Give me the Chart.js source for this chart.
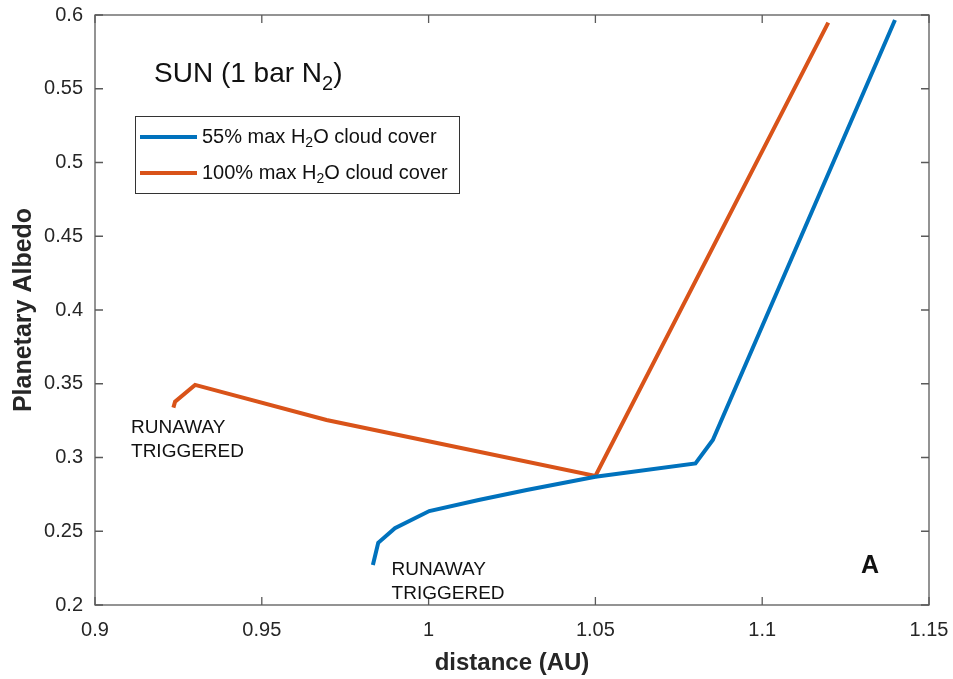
<!DOCTYPE html>
<html>
<head>
<meta charset="utf-8">
<script src="https://cdn.jsdelivr.net/npm/chart.js@4.4.1/dist/chart.umd.min.js"></script>
<style>
  html, body { margin: 0; padding: 0; background: #fff; }
  #wrap { width: 953px; height: 679px; position: relative; }
</style>
</head>
<body>
<div id="wrap"><canvas id="albedo"></canvas></div>
<script>
// 55% max H2O cloud cover
const blueX = [0.9833, 0.9849, 0.9899, 1.0002, 1.015, 1.0294, 1.05, 1.08, 1.0852, 1.1398];
const blueY = [0.2271, 0.2422, 0.2520, 0.2637, 0.2712, 0.2780, 0.2870, 0.2960, 0.3119, 0.5966];
// 100% max H2O cloud cover
const orangeX = [0.9235, 0.9240, 0.9300, 0.9694, 1.0500, 1.1198];
const orangeY = [0.3338, 0.3378, 0.3492, 0.3254, 0.2875, 0.5948];

const xTicks = [0.9, 0.95, 1, 1.05, 1.1, 1.15];
const yTicks = [0.2, 0.25, 0.3, 0.35, 0.4, 0.45, 0.5, 0.55, 0.6];

const BLUE = '#0072BD';
const ORANGE = '#D95319';
const AXIS = '#5a5a5a';
const TXT = '#262626';
const FONT = "'Liberation Sans', Arial, sans-serif";

const toPoints = (xs, ys) => xs.map((x, i) => ({ x: x, y: ys[i] }));

// draw text with a subscript part: parts = [[text, isSub], ...]
function subText(ctx, x, y, parts, size) {
  let cx = x;
  parts.forEach(([t, sub]) => {
    const s = sub ? Math.round(size * 0.72) : size;
    ctx.font = s + 'px ' + FONT;
    ctx.fillText(t, cx, sub ? y + size * 0.3 : y);
    cx += ctx.measureText(t).width;
  });
}

const framePlugin = {
  id: 'frame',
  afterDraw(chart) {
    const { ctx, chartArea: a, scales } = chart;
    const xs = scales.x, ys = scales.y;
    ctx.save();
    ctx.strokeStyle = AXIS;
    ctx.lineWidth = 1.3;
    ctx.strokeRect(a.left, a.top, a.right - a.left, a.bottom - a.top);
    const tl = 8;
    ctx.beginPath();
    xTicks.forEach(v => {
      const px = xs.getPixelForValue(v);
      ctx.moveTo(px, a.bottom); ctx.lineTo(px, a.bottom - tl);
      ctx.moveTo(px, a.top); ctx.lineTo(px, a.top + tl);
    });
    yTicks.forEach(v => {
      const py = ys.getPixelForValue(v);
      ctx.moveTo(a.left, py); ctx.lineTo(a.left + tl, py);
      ctx.moveTo(a.right, py); ctx.lineTo(a.right - tl, py);
    });
    ctx.stroke();

    // title inside the axes
    ctx.fillStyle = '#111';
    ctx.textBaseline = 'alphabetic';
    ctx.textAlign = 'left';
    subText(ctx, xs.getPixelForValue(0.9177), ys.getPixelForValue(0.5546),
      [['SUN (1 bar N', false], ['2', true], [')', false]], 28);

    // legend box
    const lx = a.left + 40, ly = a.top + 101, lw = 324, lh = 77;
    ctx.fillStyle = '#fff';
    ctx.fillRect(lx, ly, lw, lh);
    ctx.strokeStyle = '#333';
    ctx.lineWidth = 1;
    ctx.strokeRect(lx + 0.5, ly + 0.5, lw, lh);
    const rows = [
      { color: BLUE, parts: [['55% max H', false], ['2', true], ['O cloud cover', false]] },
      { color: ORANGE, parts: [['100% max H', false], ['2', true], ['O cloud cover', false]] }
    ];
    rows.forEach((r, i) => {
      const ry = ly + 21 + i * 36;
      ctx.strokeStyle = r.color;
      ctx.lineWidth = 4;
      ctx.beginPath();
      ctx.moveTo(lx + 5, ry); ctx.lineTo(lx + 62, ry);
      ctx.stroke();
      ctx.fillStyle = '#111';
      ctx.textBaseline = 'middle';
      subText(ctx, lx + 67, ry, r.parts, 20);
    });

    // annotations
    ctx.fillStyle = '#111';
    ctx.textBaseline = 'alphabetic';
    ctx.font = '19px ' + FONT;
    let px = xs.getPixelForValue(0.9108), py = ys.getPixelForValue(0.3166);
    ctx.fillText('RUNAWAY', px, py);
    ctx.fillText('TRIGGERED', px, py + 24);
    px = xs.getPixelForValue(0.9889); py = ys.getPixelForValue(0.2203);
    ctx.fillText('RUNAWAY', px, py);
    ctx.fillText('TRIGGERED', px, py + 24);

    ctx.font = 'bold 25px ' + FONT;
    ctx.textAlign = 'center';
    ctx.fillText('A', xs.getPixelForValue(1.1323), ys.getPixelForValue(0.2217));
    ctx.restore();
  }
};

const noPad = s => { s.paddingLeft = 0; s.paddingRight = 0; s.paddingTop = 0; s.paddingBottom = 0; };

new Chart(document.getElementById('albedo'), {
  type: 'scatter',
  data: {
    datasets: [
      {
        label: '55% max H2O cloud cover',
        data: toPoints(blueX, blueY),
        showLine: true,
        borderColor: BLUE,
        backgroundColor: BLUE,
        borderWidth: 4,
        pointRadius: 0,
        tension: 0
      },
      {
        label: '100% max H2O cloud cover',
        data: toPoints(orangeX, orangeY),
        showLine: true,
        borderColor: ORANGE,
        backgroundColor: ORANGE,
        borderWidth: 4,
        pointRadius: 0,
        tension: 0
      }
    ]
  },
  options: {
    responsive: true,
    maintainAspectRatio: false,
    animation: false,
    layout: { padding: { top: 15, right: 24, left: 0, bottom: 0 } },
    plugins: {
      legend: { display: false },
      tooltip: { enabled: false }
    },
    scales: {
      x: {
        type: 'linear',
        min: 0.9,
        max: 1.15,
        afterBuildTicks: s => { s.ticks = xTicks.map(v => ({ value: v })); },
        afterFit: s => { s.height = 74; noPad(s); },
        grid: { display: false, drawTicks: false },
        border: { display: false },
        ticks: {
          padding: 13,
          color: TXT,
          font: { family: FONT, size: 20 },
          maxRotation: 0,
          callback: v => String(+v.toFixed(2))
        },
        title: {
          display: true,
          text: 'distance (AU)',
          color: TXT,
          font: { family: FONT, size: 24, weight: 'bold' },
          padding: { top: 0, bottom: 1 }
        }
      },
      y: {
        type: 'linear',
        min: 0.2,
        max: 0.6,
        afterBuildTicks: s => { s.ticks = yTicks.map(v => ({ value: v })); },
        afterFit: s => { s.width = 95; noPad(s); },
        grid: { display: false, drawTicks: false },
        border: { display: false },
        ticks: {
          padding: 12,
          color: TXT,
          font: { family: FONT, size: 20 },
          callback: v => String(+v.toFixed(2))
        },
        title: {
          display: true,
          text: 'Planetary Albedo',
          color: TXT,
          font: { family: FONT, size: 25, weight: 'bold' },
          padding: { top: 9, bottom: 0 }
        }
      }
    }
  },
  plugins: [framePlugin]
});
</script>
</body>
</html>
